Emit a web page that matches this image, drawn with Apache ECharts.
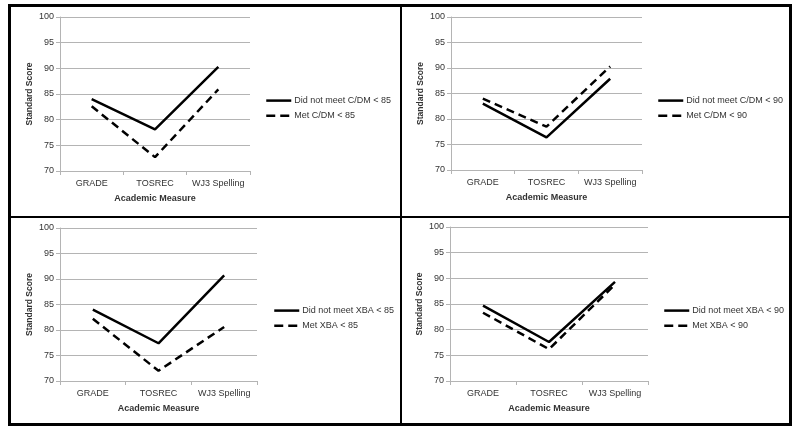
<!DOCTYPE html>
<html>
<head>
<meta charset="utf-8">
<script src="https://cdn.jsdelivr.net/npm/echarts@6/dist/echarts.min.js"></script>
<style>
  html, body { margin: 0; padding: 0; background: #fff; }
  #chart { width: 800px; height: 434px; }
</style>
</head>
<body>
<div id="chart"></div>
<script>
// ---- data ----
const categories = ['GRADE', 'TOSREC', 'WJ3 Spelling'];
const yTicks = { min: 70, max: 100, interval: 5 };

const p1Names = ['Did not meet C/DM < 85', 'Met C/DM < 85'];
const p1NotMet = [84.0, 78.1, 90.3];
const p1Met = [82.6, 72.7, 85.9];

const p2Names = ['Did not meet C/DM < 90', 'Met C/DM < 90'];
const p2NotMet = [83.0, 76.4, 87.9];
const p2Met = [84.0, 78.5, 90.3];

const p3Names = ['Did not meet XBA < 85', 'Met XBA < 85'];
const p3NotMet = [84.0, 77.4, 90.7];
const p3Met = [82.2, 72.0, 80.6];

const p4Names = ['Did not meet XBA < 90', 'Met XBA < 90'];
const p4NotMet = [84.7, 77.6, 89.3];
const p4Met = [83.3, 76.2, 88.8];

const xName = 'Academic Measure';
const yName = 'Standard Score';

// ---- layout / style ----
const FONT = "'Liberation Sans', Arial, sans-serif";
const TXT = '#333';
const GRIDC = '#b4b4b4';
const DASH = [8, 5];
const LEGEND_DASH = [9, 5];

const panels = [
  { names: p1Names, a: p1NotMet, b: p1Met, grid: { left: 60, top: 17, width: 190, height: 154 }, legend: { left: 265, top: 95 } },
  { names: p2Names, a: p2NotMet, b: p2Met, grid: { left: 451, top: 17, width: 191, height: 153 }, legend: { left: 657, top: 95 } },
  { names: p3Names, a: p3NotMet, b: p3Met, grid: { left: 60, top: 228, width: 197, height: 153 }, legend: { left: 273, top: 305 } },
  { names: p4Names, a: p4NotMet, b: p4Met, grid: { left: 450, top: 227, width: 198, height: 154 }, legend: { left: 663, top: 305 } }
];

const option = {
  animation: false,
  backgroundColor: '#fff',
  textStyle: { fontFamily: FONT },
  grid: [], xAxis: [], yAxis: [], series: [], legend: [],
  graphic: [
    { type: 'rect', shape: { x: 9.5, y: 5.5, width: 781, height: 419 }, style: { fill: 'none', stroke: '#000', lineWidth: 3 }, z: 100 },
    { type: 'line', shape: { x1: 401, y1: 5, x2: 401, y2: 425 }, style: { stroke: '#000', lineWidth: 2 }, z: 100 },
    { type: 'line', shape: { x1: 9, y1: 217, x2: 791, y2: 217 }, style: { stroke: '#000', lineWidth: 2 }, z: 100 }
  ]
};

panels.forEach((p, i) => {
  option.grid.push(Object.assign({ containLabel: false }, p.grid));
  option.xAxis.push({
    type: 'category', gridIndex: i, data: categories, boundaryGap: true,
    name: xName, nameLocation: 'middle', nameGap: 23,
    nameTextStyle: { fontWeight: 'bold', fontSize: 9, color: TXT, fontFamily: FONT },
    axisLine: { lineStyle: { color: GRIDC, width: 1 } },
    axisTick: { show: true, length: 4, lineStyle: { color: GRIDC } },
    axisLabel: { fontSize: 9, color: TXT, margin: 8, fontFamily: FONT, interval: 0 },
    splitLine: { show: false }
  });
  option.yAxis.push({
    type: 'value', gridIndex: i, min: yTicks.min, max: yTicks.max, interval: yTicks.interval,
    name: yName, nameLocation: 'middle', nameGap: 26, nameRotate: 90,
    nameTextStyle: { fontWeight: 'bold', fontSize: 8.5, color: TXT, fontFamily: FONT },
    axisLine: { show: true, lineStyle: { color: GRIDC, width: 1 } },
    axisTick: { show: true, length: 4, lineStyle: { color: GRIDC } },
    axisLabel: { fontSize: 9, color: TXT, margin: 6, fontFamily: FONT },
    splitLine: { show: true, lineStyle: { color: GRIDC, width: 1 } }
  });
  option.series.push({
    name: p.names[0], type: 'line', xAxisIndex: i, yAxisIndex: i, data: p.a,
    symbol: 'none', lineStyle: { color: '#000', width: 2.5, type: 'solid' }, itemStyle: { color: '#000' }, z: 3
  });
  option.series.push({
    name: p.names[1], type: 'line', xAxisIndex: i, yAxisIndex: i, data: p.b,
    symbol: 'none', lineStyle: { color: '#000', width: 2.5, type: DASH }, itemStyle: { color: '#000' }, z: 3
  });
  option.legend.push({
    data: [
      { name: p.names[0], lineStyle: { color: '#000', width: 2.5, type: 'solid' } },
      { name: p.names[1], lineStyle: { color: '#000', width: 2.5, type: LEGEND_DASH } }
    ],
    orient: 'vertical', left: p.legend.left, top: p.legend.top,
    itemWidth: 25, itemHeight: 14, itemGap: 4, padding: 0,
    selectedMode: false,
    itemStyle: { opacity: 0, borderWidth: 0 },
    textStyle: { fontSize: 9, color: TXT, fontFamily: FONT, padding: [0, 0, 0, -2] }
  });
});

const chart = echarts.init(document.getElementById('chart'), null, { renderer: 'canvas' });
chart.setOption(option);
</script>
</body>
</html>
